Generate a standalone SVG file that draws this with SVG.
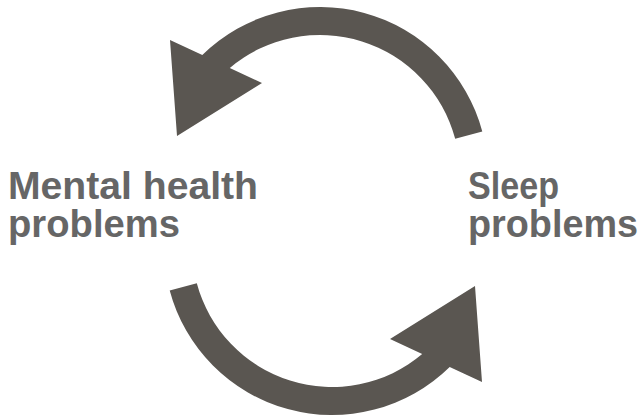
<svg xmlns="http://www.w3.org/2000/svg" width="641" height="418" viewBox="0 0 641 418">
  <style>
    .arrow { fill: #5a5651; stroke: none; }
    .label { font-family: "Liberation Sans", Arial, sans-serif; font-weight: bold; font-size: 38.5px; fill: #666666; }
  </style>
  <rect width="641" height="418" fill="#ffffff"/>
  <g id="connectors">
    <path id="arrow-top" class="arrow" d="M 482.3,131.5 A 168 168 0 0 0 202.3,55.1 L 170,40 L 177,136 L 262,83 L 229.8,67.9 A 140 140 0 0 1 455.2,138.8 Z"/>
    <path id="arrow-bottom" class="arrow" d="M 169.7,290.5 A 168 168 0 0 0 449.7,366.9 L 482,382 L 475,286 L 390,339 L 422.2,354.1 A 140 140 0 0 1 196.8,283.2 Z"/>
  </g>
  <g id="node-mental">
    <text class="label"><tspan x="8" y="199" textLength="250" lengthAdjust="spacingAndGlyphs">Mental health</tspan><tspan x="8" y="237" textLength="172" lengthAdjust="spacingAndGlyphs">problems</tspan></text>
  </g>
  <g id="node-sleep">
    <text class="label"><tspan x="468" y="199" textLength="91" lengthAdjust="spacingAndGlyphs">Sleep</tspan><tspan x="468" y="237" textLength="170" lengthAdjust="spacingAndGlyphs">problems</tspan></text>
  </g>
</svg>
